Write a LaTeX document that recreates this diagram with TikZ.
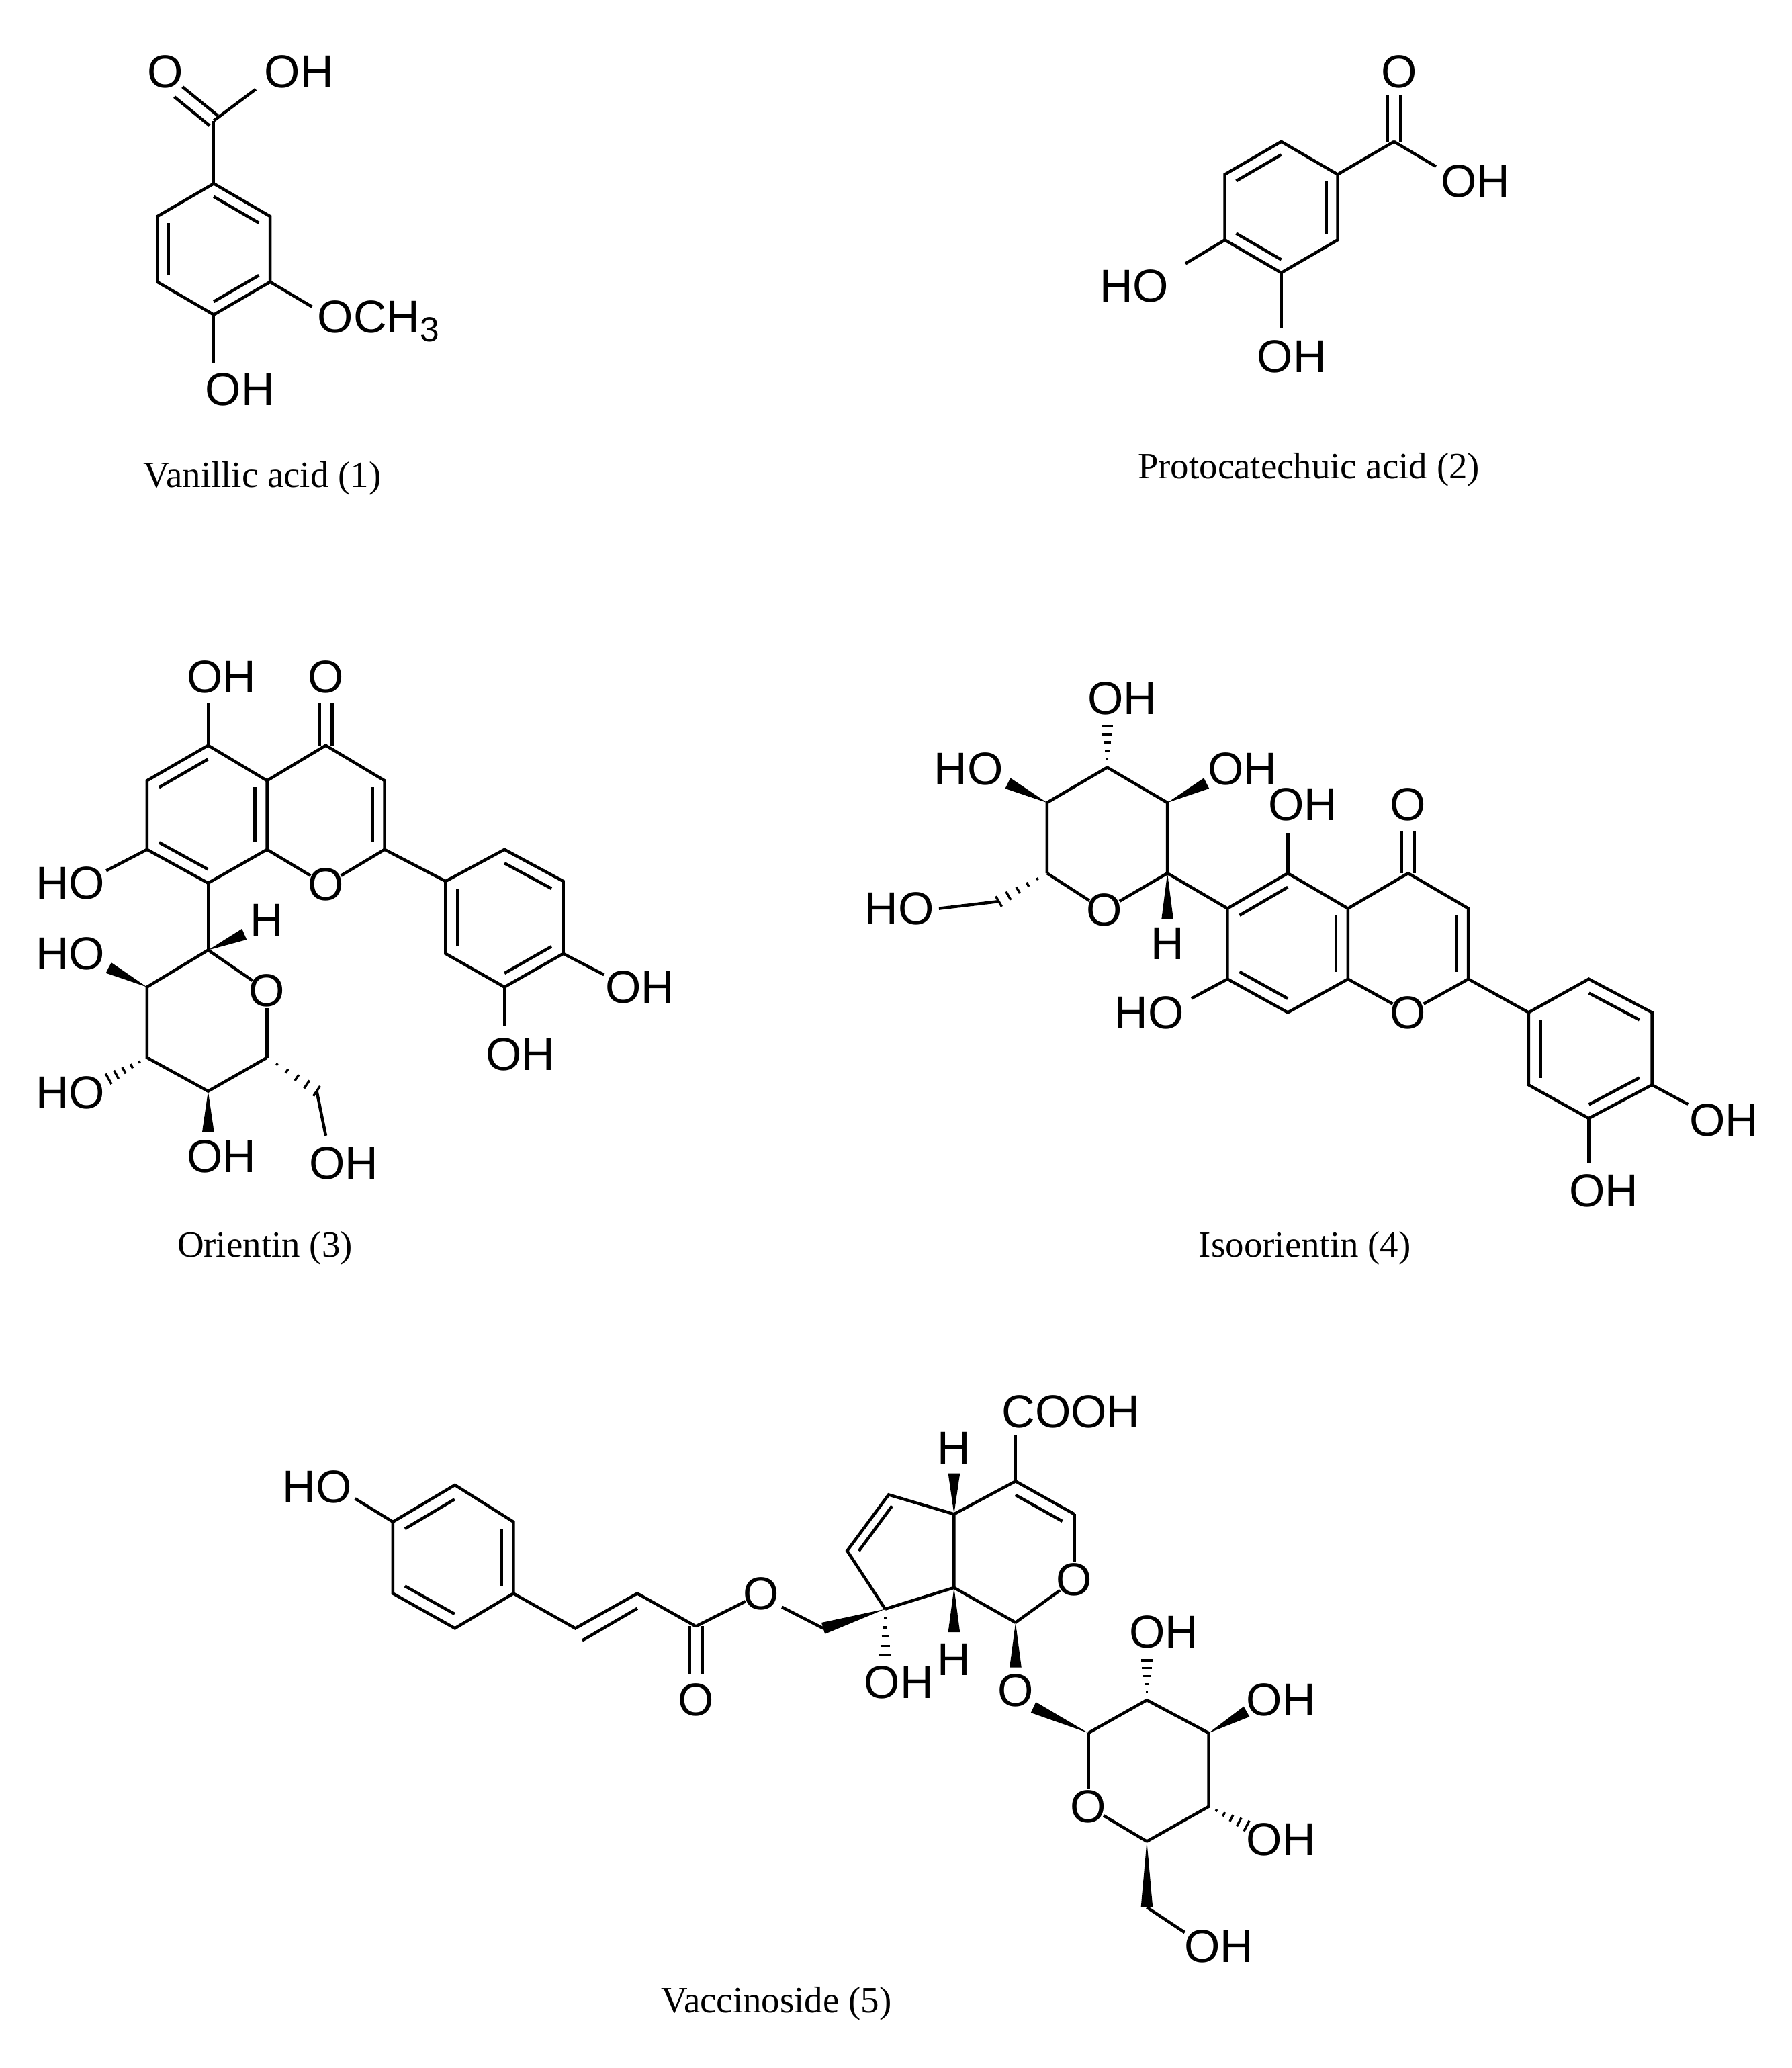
\documentclass[tikz,border=0pt]{standalone}
\usepackage{fontspec}
\setmainfont{Liberation Serif}
\newfontfamily\atomfont{Liberation Sans}
\usetikzlibrary{calc}
\newcommand\tb[2]{\draw (#1) -- ($(#2)!0.27cm!(#1)$);}
\newcommand\wdg[2]{\fill (#1) -- ($(#2)!0.09cm!90:(#1)$) -- ($(#2)!0.09cm!-90:(#1)$) -- cycle;}
\newcommand\hsh[2]{\foreach \t [evaluate=\t as \w using \t*2.6] in {0.2,0.4,0.6,0.8,1.0}{\draw[line width=1pt] ($(#1)!\t!(#2)!\w pt!90:(#1)$) -- ($(#1)!\t!(#2)!\w pt!-90:(#1)$);}}
\newcommand\inl[3]{\draw ($(#1)!0.2!(#3)$) -- ($(#2)!0.2!(#3)$);}
\newcommand\dbo[2]{\draw ($(#1)!2.8pt!90:(#2)$) -- ($(#2)!2.8pt!-90:(#1)$); \draw ($(#1)!2.8pt!-90:(#2)$) -- ($(#2)!2.8pt!90:(#1)$);}
\tikzset{atm/.style={font=\atomfont\fontsize{20}{20}\selectfont, inner sep=0pt},
  capt/.style={font=\fontsize{16}{18}\selectfont, inner sep=0pt}}
\begin{document}
\begin{tikzpicture}[x=0.02cm,y=-0.02cm,line width=1.3pt]
\useasboundingbox[fill=white] (0,0) rectangle (1366,1577);
% ---------- Vanillic acid
\coordinate (v1) at (163,140); \coordinate (v2) at (206,165); \coordinate (v3) at (206,215);
\coordinate (v4) at (163,240); \coordinate (v5) at (120,215); \coordinate (v6) at (120,165);
\coordinate (vc) at (163,190); \coordinate (vC) at (163,92);
\draw (v1)--(v2)--(v3)--(v4)--(v5)--(v6)--cycle;
\inl{v1}{v2}{vc}\inl{v3}{v4}{vc}\inl{v5}{v6}{vc}
\draw (v1)--(vC);
\coordinate (vO) at (136,70); \dbo{vC}{vO}
\draw (vC)--(195,68);
\node[atm] (vOl) at (126,55) {O};
\node[atm] (vOH) at (228,55) {OH};
\draw (v3)--(238,234);
\node[atm,anchor=west] (vOMe) at (241,245) {OCH\raisebox{-0.35ex}{\fontsize{15}{15}\selectfont 3}};
\draw (v4)--(163,277);
\node[atm] (vOH2) at (183,297) {OH};
\node[capt] (cap1) at (200,365) {Vanillic acid (1)};
% ---------- Protocatechuic acid
\coordinate (p1) at (977,108); \coordinate (p2) at (1020,133); \coordinate (p3) at (1020,183);
\coordinate (p4) at (977,208); \coordinate (p5) at (934,183); \coordinate (p6) at (934,133);
\coordinate (pc) at (977,158); \coordinate (pC) at (1063,108);
\draw (p1)--(p2)--(p3)--(p4)--(p5)--(p6)--cycle;
\inl{p6}{p1}{pc}\inl{p2}{p3}{pc}\inl{p4}{p5}{pc}
\draw (p2)--(pC);
\coordinate (pO) at (1063,72); \dbo{pC}{pO}
\draw (pC)--(1095,127);
\node[atm] (pOl) at (1067,55) {O};
\node[atm] (pOH) at (1125,138) {OH};
\draw (p5)--(904,201);
\node[atm] (pHO) at (865,218) {HO};
\draw (p4)--(977,250);
\node[atm] (pOH2) at (985,272) {OH};
\node[capt] (cap2) at (998,358) {Protocatechuic acid (2)};
% ---------- Orientin
\coordinate (oC5) at (158.7,568.4); \coordinate (oC4a) at (203.6,595.3); \coordinate (oC8a) at (203.6,647.8);
\coordinate (oC8) at (158.7,673.4); \coordinate (oC7) at (112.1,647.8); \coordinate (oC6) at (112.1,595.3);
\coordinate (oA) at (158,621); \coordinate (oCc) at (248,621);
\coordinate (oC4) at (248.4,568.4); \coordinate (oC3) at (293.3,595.3); \coordinate (oC2) at (293.3,647.8);
\coordinate (oO1) at (248.4,674.7);
\draw (oC5)--(oC4a)--(oC8a)--(oC8)--(oC7)--(oC6)--cycle;
\inl{oC6}{oC5}{oA}\inl{oC7}{oC8}{oA}\inl{oC4a}{oC8a}{oA}
\draw (oC4a)--(oC4)--(oC3)--(oC2);
\inl{oC3}{oC2}{oCc}
\tb{oC2}{oO1}\tb{oC8a}{oO1}
\node[atm] (oO1l) at (oO1) {O};
\coordinate (oOk) at (248.4,536.2); \dbo{oC4}{oOk}
\node[atm] (oOkl) at (248.4,516) {O};
\draw (oC5)--(158.7,536.2); \node[atm] (oOH5) at (169,516) {OH};
\draw (oC7)--(81,664); \node[atm] (oHO7) at (53.5,673.4) {HO};
\coordinate (oB1) at (339.8,672); \coordinate (oB2) at (384.7,647.8); \coordinate (oB3) at (429.5,672);
\coordinate (oB4) at (429.5,727.2); \coordinate (oB5) at (384.7,752.7); \coordinate (oB6) at (339.8,727.2);
\coordinate (oBc) at (384.7,700);
\draw (oC2)--(oB1);
\draw (oB1)--(oB2)--(oB3)--(oB4)--(oB5)--(oB6)--cycle;
\inl{oB2}{oB3}{oBc}\inl{oB4}{oB5}{oBc}\inl{oB6}{oB1}{oBc}
\draw (oB4)--(460.6,743.3); \node[atm] (oOHb4) at (488,752.7) {OH};
\draw (oB5)--(384.7,782.3); \node[atm] (oOHb5) at (396.8,803.8) {OH};
% sugar
\coordinate (oS1) at (158.7,724.5); \coordinate (oSO) at (203.6,755.4); \coordinate (oS5) at (203.6,806.5);
\coordinate (oS4) at (158.7,832.1); \coordinate (oS3) at (112.1,806.5); \coordinate (oS2) at (112.1,752.7);
\draw (oC8)--(oS1);
\tb{oS1}{oSO}\tb{oS5}{oSO}
\node[atm] (oSOl) at (oSO) {O};
\draw (oS5)--(oS4)--(oS3)--(oS2)--(oS1);
\wdg{oS1}{186.3,712.4} \node[atm] (oH1) at (203.6,701.6) {H};
\wdg{oS2}{82.8,738} \node[atm] (oHO2) at (53.5,727.2) {HO};
\hsh{oS3}{82.8,822.7} \node[atm] (oHO3) at (53.5,833.4) {HO};
\wdg{oS4}{158.7,863} \node[atm] (oOH4) at (169,881.8) {OH};
\hsh{oS5}{241.5,832} \draw (241.5,832)--(248.4,866);
\node[atm] (oOH6) at (262,887.2) {OH};
\node[capt] (cap3) at (202,952) {Orientin (3)};
% ---------- Isoorientin
\coordinate (iC6) at (936,692.8); \coordinate (iC5) at (982,665.9); \coordinate (iC4a) at (1027.9,692.8);
\coordinate (iC8a) at (1027.9,746.6); \coordinate (iC8) at (982,772.1); \coordinate (iC7) at (936,746.6);
\coordinate (iA) at (982,719); \coordinate (iCc) at (1073.8,719);
\coordinate (iC4) at (1073.8,665.9); \coordinate (iC3) at (1119.7,692.8); \coordinate (iC2) at (1119.7,746.6);
\coordinate (iO1) at (1073.8,772.1);
\draw (iC6)--(iC5)--(iC4a)--(iC8a)--(iC8)--(iC7)--cycle;
\inl{iC6}{iC5}{iA}\inl{iC7}{iC8}{iA}\inl{iC4a}{iC8a}{iA}
\draw (iC4a)--(iC4)--(iC3)--(iC2);
\inl{iC3}{iC2}{iCc}
\tb{iC2}{iO1}\tb{iC8a}{iO1}
\node[atm] (iO1l) at (iO1) {O};
\coordinate (iOk) at (1073.8,634); \dbo{iC4}{iOk}
\node[atm] (iOkl) at (1073.8,613.4) {O};
\draw (iC5)--(982,635); \node[atm] (iOH5) at (993.4,613.4) {OH};
\draw (iC7)--(908.5,761.4); \node[atm] (iHO7) at (876.4,772.1) {HO};
\coordinate (iB1) at (1165.6,772.1); \coordinate (iB2) at (1211.5,746.6); \coordinate (iB3) at (1259.7,772.1);
\coordinate (iB4) at (1259.7,827.3); \coordinate (iB5) at (1211.5,852.8); \coordinate (iB6) at (1165.6,827.3);
\coordinate (iBc) at (1212,800);
\draw (iC2)--(iB1);
\draw (iB1)--(iB2)--(iB3)--(iB4)--(iB5)--(iB6)--cycle;
\inl{iB2}{iB3}{iBc}\inl{iB4}{iB5}{iBc}\inl{iB6}{iB1}{iBc}
\draw (iB4)--(1287.2,842.1); \node[atm] (iOHb4) at (1314.7,854.2) {OH};
\draw (iB5)--(1211.5,887); \node[atm] (iOHb5) at (1223,908) {OH};
% sugar
\coordinate (iS1) at (890.2,665.9); \coordinate (iS2) at (890.2,612.1); \coordinate (iS3) at (844.3,585.2);
\coordinate (iS4) at (798.4,612.1); \coordinate (iS5) at (798.4,665.9); \coordinate (iSO) at (842,694.1);
\draw (iC6)--(iS1)--(iS2)--(iS3)--(iS4)--(iS5);
\tb{iS5}{iSO}\tb{iS1}{iSO}
\node[atm] (iSOl) at (iSO) {O};
\hsh{iS3}{844.3,554} \node[atm] (iOH3) at (855.7,532.7) {OH};
\wdg{iS4}{768.5,597.3} \node[atm] (iHO4) at (738.7,586.5) {HO};
\wdg{iS2}{920,597.3} \node[atm] (iOH2) at (947.5,586.5) {OH};
\wdg{iS1}{890.2,700.9} \node[atm] (iH1) at (890.2,719.7) {H};
\hsh{iS5}{761.6,687.4} \draw (761.6,687.4)--(716,692.8);
\node[atm] (iHO6) at (686,692.8) {HO};
\node[capt] (cap4) at (995,952) {Isoorientin (4)};
% ---------- Vaccinoside
\coordinate (r1) at (346.9,1132.4); \coordinate (r2) at (391.5,1160.5); \coordinate (r3) at (391.5,1215.1);
\coordinate (r4) at (346.9,1241.7); \coordinate (r5) at (299.6,1215.1); \coordinate (r6) at (299.6,1160.5);
\coordinate (rc) at (345.5,1187);
\draw (r1)--(r2)--(r3)--(r4)--(r5)--(r6)--cycle;
\inl{r2}{r3}{rc}\inl{r4}{r5}{rc}\inl{r6}{r1}{rc}
\draw (r6)--(270.7,1142.8); \node[atm] (rHO) at (241.9,1133.9) {HO};
\coordinate (ca) at (438.7,1241.7); \coordinate (cb) at (486,1215.1); \coordinate (ce) at (530.6,1240.2);
\draw (r3)--(ca)--(cb)--(ce);
\draw (444,1251) -- (486,1226.5);
\coordinate (ceO) at (530.6,1277); \dbo{ce}{ceO}
\node[atm] (ceOl) at (530.6,1296.4) {O};
\coordinate (eO) at (580.5,1215.1);
\tb{ce}{eO} \node[atm] (eOl) at (eO) {O};
\coordinate (ch2) at (627.7,1241.7);
\draw (596.2,1225.5)--(ch2);
\coordinate (k8) at (675,1227); \coordinate (k7) at (646,1182.6); \coordinate (k6) at (677.6,1139.8);
\coordinate (k5) at (727.5,1154.6); \coordinate (k9) at (727.5,1210.7); \coordinate (kc) at (690.7,1183);
\wdg{k8}{ch2}
\draw (k8)--(k7)--(k6)--(k5)--(k9)--(k8);
\inl{k7}{k6}{kc}
\hsh{k8}{675,1262} \node[atm] (kOH) at (685.5,1283) {OH};
\wdg{k5}{727.5,1123.5} \node[atm] (kH5) at (727.5,1104) {H};
\wdg{k9}{727.5,1244.7} \node[atm] (kH9) at (727.5,1265.3) {H};
\coordinate (k4) at (774.4,1129.5); \coordinate (k3) at (819.2,1154.6); \coordinate (kO2) at (819.2,1204.8);
\coordinate (k1) at (774.4,1237.3); \coordinate (kp) at (773.7,1181.9);
\draw (k5)--(k4)--(k3);
\inl{k4}{k3}{kp}
\tb{k3}{kO2}\tb{k1}{kO2}
\node[atm] (kO2l) at (kO2) {O};
\draw (k1)--(k9);
\draw (k4)--(774.4,1094); \node[atm] (kCOOH) at (816.7,1076.3) {COOH};
\coordinate (gO) at (774.4,1289);
\wdg{k1}{774.4,1271.5} \node[atm] (gOl) at (gO) {O};
\coordinate (g1) at (829.9,1321.5); \coordinate (g2) at (874.5,1296.4); \coordinate (g3) at (921.7,1321.5);
\coordinate (g4) at (921.7,1377.6); \coordinate (g5) at (874.5,1404.2); \coordinate (gO5) at (829.9,1377.6);
\wdg{g1}{788,1302}
\draw (g1)--(g2)--(g3)--(g4)--(g5);
\tb{g1}{gO5}\tb{g5}{gO5}
\node[atm] (gO5l) at (gO5) {O};
\hsh{g2}{874.5,1266} \node[atm] (gOH2) at (887.6,1244.7) {OH};
\wdg{g3}{950.6,1305.2} \node[atm] (gOH3) at (976.8,1296.4) {OH};
\hsh{g4}{950.6,1392.4} \node[atm] (gOH4) at (976.8,1402.7) {OH};
\coordinate (g6) at (874.5,1454.4);
\wdg{g5}{g6} \draw (g6)--(903.4,1473.6);
\node[atm] (gOH6) at (929.6,1484) {OH};
\node[capt] (cap5) at (592,1528) {Vaccinoside (5)};
\end{tikzpicture}
\end{document}
